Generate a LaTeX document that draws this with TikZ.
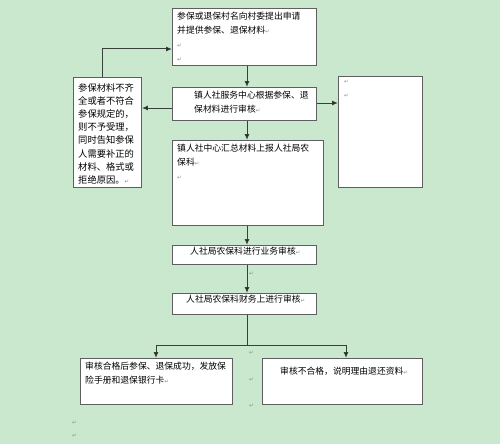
\documentclass[tikz,border=0pt]{standalone}
\usepackage{fontspec}
\setmainfont{Noto Sans CJK SC}
\newfontfamily\symfont{DejaVu Sans}
\usetikzlibrary{arrows.meta,calc}
\definecolor{bg}{RGB}{202,232,206}
\definecolor{edge}{RGB}{95,95,95}
\definecolor{wire}{RGB}{55,65,58}
\definecolor{ret}{RGB}{140,140,140}
\newcommand{\rt}{{\symfont\fontsize{5.5}{6}\selectfont\textcolor{ret}{↵}}}
\tikzset{
  box/.style={draw=edge, line width=0.9pt, fill=white, anchor=north west, inner sep=0pt},
  lbl/.style={anchor=north west, inner sep=0pt, align=left, font=\fontsize{8.8}{14}\selectfont},
  retmark/.style={anchor=west, inner sep=0pt},
  arr/.style={draw=wire, line width=1pt, -{Latex[length=6pt,width=5pt,fill=black]}},
  ln/.style={draw=wire, line width=1pt}
}
\begin{document}
\begin{tikzpicture}[x=1pt,y=-1pt]
\fill[bg] (0,0) rectangle (500,444);
\useasboundingbox (0,0) rectangle (500,444);
\coordinate (mid) at (247,0);
% boxes
\node[box, minimum width=144pt, minimum height=57pt] (b1) at (172,8) {};
\node[box, minimum width=144pt, minimum height=33pt] (b2) at (172,87) {};
\node[box, minimum width=151pt, minimum height=85pt] (b3) at (172,140) {};
\node[box, minimum width=144pt, minimum height=19pt] (b4) at (172,245) {};
\node[box, minimum width=144pt, minimum height=21pt] (b5) at (172,293) {};
\node[box, minimum width=68pt, minimum height=110pt] (lb) at (73,77) {};
\node[box, minimum width=84pt, minimum height=111pt] (rb) at (338,76) {};
\node[box, minimum width=152pt, minimum height=46pt] (bl) at (80,358) {};
\node[box, minimum width=160pt, minimum height=46pt] (br) at (262,358) {};
% texts
\node[lbl] (t1) at (177,12) {参保或退保村名向村委提出申请\\并提供参保、退保材料\rt\\\rt\\\rt};
\node[lbl] (t2) at (194,91) {镇人社服务中心根据参保、退\\保材料进行审核\rt};
\node[lbl] (t3) at (177,144) {镇人社中心汇总材料上报人社局农\\保科\rt\\\rt};
\node[lbl] (t4) at (190,247) {人社局农保科进行业务审核\rt};
\node[lbl] (t5) at (186,295) {人社局农保科财务上进行审核\rt};
\node[lbl, font=\fontsize{9.3}{13.2}\selectfont] (tl) at (78,83) {参保材料不齐\\全或者不符合\\参保规定的，\\则不予受理，\\同时告知参保\\人需要补正的\\材料、格式或\\拒绝原因。\rt};
\node[lbl] (tr) at (344,80) {\rt\\\rt};
\node[lbl] (tbl) at (85,362) {审核合格后参保、退保成功，发放保\\险手册和退保银行卡\rt};
\node[lbl] (tbr) at (280,367) {审核不合格，说明理由退还资料\rt};
% stray paragraph marks
\node[retmark] (m1) at (249,274) {\rt};
\node[retmark] (m2) at (249,353) {\rt};
\node[retmark] (m3) at (249,380) {\rt};
\node[retmark] (m4) at (249,406) {\rt};
\node[retmark] (m5) at (72,423) {\rt};
\node[retmark] (m6) at (72,436) {\rt};
% connectors
\draw[arr] (b1.south -| mid) -- (b2.north -| mid);
\draw[arr] (b2.south -| mid) -- (b3.north -| mid);
\draw[arr] (b3.south -| mid) -- (b4.north -| mid);
\draw[arr] (b4.south -| mid) -- (b5.north -| mid);
\coordinate (lx) at (102,0);
\coordinate (ty) at (0,49);
\draw[arr] (lb.north -| lx) |- (b1.west |- ty);
\coordinate (y2) at (0,108);
\draw[arr] (b2.west |- y2) -- (lb.east |- y2);
\coordinate (y3) at (0,103);
\draw[arr] (b2.east |- y3) -- (rb.west |- y3);
\coordinate (sp) at (247,345);
\coordinate (lxx) at (156,0);
\coordinate (rxx) at (346,0);
\draw[ln] (b5.south -| mid) -- (sp);
\draw[arr] (sp) -| (bl.north -| lxx);
\draw[arr] (sp) -| (br.north -| rxx);
\end{tikzpicture}
\end{document}
